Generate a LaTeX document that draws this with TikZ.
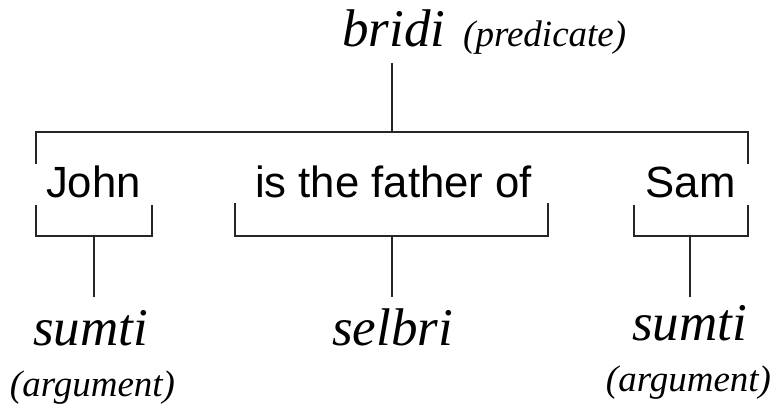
\documentclass[tikz,border=0pt]{standalone}
\usepackage{fontspec}
\setmainfont{Liberation Serif}
\newfontfamily\sansf{Liberation Sans}
\begin{document}
\begin{tikzpicture}[x=1pt,y=-1pt,
  big/.style={inner sep=0pt,anchor=base,font=\fontsize{53}{60}\selectfont\itshape},
  small/.style={inner sep=0pt,anchor=base,font=\fontsize{37}{42}\selectfont\itshape},
  word/.style={inner sep=0pt,anchor=base,font=\fontsize{43.7}{50}\selectfont\sansf},
  ln/.style={line width=1.8pt,draw=black!85,line cap=butt}]
\useasboundingbox (0,0) rectangle (776,406);
% texts
\node[big,anchor=base west] (bridi) at (342,47) {bridi};
\node[small,anchor=base west] (pred) at (463,47) {(predicate)};
\node[word] (john) at (93.5,198) {John};
\node[word] (father) at (393.5,198) {is the father of};
\node[word] (sam) at (690.5,198) {Sam};
\node[big] (sumtiL) at (90.5,345) {sumti};
\node[big] (selbri) at (392.5,345) {selbri};
\node[big] (sumtiR) at (689.5,340) {sumti};
\node[small] (argL) at (92.5,396) {(argument)};
\node[small] (argR) at (688.5,391) {(argument)};
% coordinates
\coordinate (t1) at (392,63);
\coordinate (t2) at (392,132);
\coordinate (hl) at (36,132);
\coordinate (hr) at (748,132);
\coordinate (hld) at (36,164);
\coordinate (hrd) at (748,164);
% brackets
\coordinate (jl) at (36,205); \coordinate (jr) at (152,205);
\coordinate (fl) at (235,203); \coordinate (fr) at (548,203);
\coordinate (sl) at (634,205); \coordinate (sr) at (748,205);
\coordinate (jm) at (94,236); \coordinate (jm2) at (94,297);
\coordinate (fm) at (392,236); \coordinate (fm2) at (392,297);
\coordinate (sm) at (690,236); \coordinate (sm2) at (690,297);
\draw[ln] (t1) -- (t2);
\draw[ln] (hld) -- (hl) -- (hr) -- (hrd);
\draw[ln] (jl) -- (jl |- jm) -- (jr |- jm) -- (jr);
\draw[ln] (fl) -- (fl |- fm) -- (fr |- fm) -- (fr);
\draw[ln] (sl) -- (sl |- sm) -- (sr |- sm) -- (sr);
\draw[ln] (jm) -- (jm2);
\draw[ln] (fm) -- (fm2);
\draw[ln] (sm) -- (sm2);
\end{tikzpicture}
\end{document}
